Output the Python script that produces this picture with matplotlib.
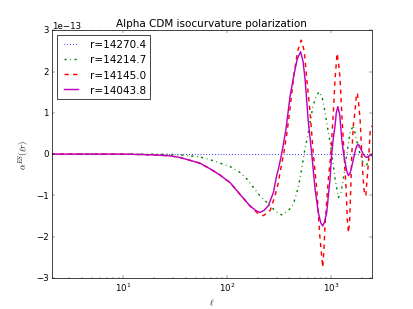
import numpy as np
import matplotlib
matplotlib.use('Agg')
import matplotlib.pyplot as plt

plt.style.use('classic')

# multipoles and alpha^{ES} values (units of 1e-13)
labels = ['r=14270.4', 'r=14214.7', 'r=14145.0', 'r=14043.8']

ell_blue = [2, 2500]
val_blue = [0.0, 0.0]

ell_green = [2, 20, 30, 44, 55, 68, 86, 107, 133, 155, 180, 208, 242, 280, 310,
             336, 390, 436, 487, 525, 552, 608, 670, 722, 776, 830, 881, 948, 1000, 1023,
             1100, 1184, 1250, 1323, 1427, 1535, 1652, 1781, 1916, 2062, 2175, 2305, 2500]
val_green = [0, 0, -0.01, -0.04, -0.07, -0.13, -0.22, -0.3, -0.44, -0.6, -0.81, -1.01, -1.17, -1.33, -1.43,
             -1.47, -1.37, -1.21, -0.8, -0.35, 0.0, 0.52, 1.13, 1.41, 1.51, 1.35, 1.02, 0.52, 0.2, 0.0,
             -0.6, -1.05, -0.95, -0.6, 0.0, 0.53, 0.69, 0.32, 0.0, -0.24, -0.32, -0.16, 0.0]

ell_red = [2, 10, 15, 20, 28, 35, 44, 55, 68, 85, 107, 133, 166, 195, 224,
           260, 290, 313, 324, 351, 380, 405, 440, 480, 520, 555, 587, 632, 679, 733,
           785, 837, 860, 881, 910, 948, 1000, 1059, 1100, 1150, 1190, 1229, 1276, 1343, 1406,
           1445, 1480, 1520, 1560, 1594, 1650, 1715, 1760, 1805, 1860, 1916, 1991, 2050, 2109, 2175,
           2240, 2305, 2393, 2500]
val_red = [0, 0, -0.01, -0.02, -0.04, -0.08, -0.15, -0.22, -0.35, -0.5, -0.69, -0.97, -1.25, -1.42, -1.49,
           -1.37, -1.01, -0.69, -0.45, 0.0, 0.55, 1.11, 1.9, 2.5, 2.76, 2.5, 1.82, 1.01, 0.0, -0.85,
           -2.0, -2.74, -2.3, -1.7, -1.2, -0.6, 0.0, 1.01, 1.82, 2.44, 2.2, 1.82, 1.0, 0.0, -0.85,
           -1.6, -1.9, -1.6, -0.8, 0.0, 0.7, 1.05, 1.38, 1.48, 1.2, 0.85, 0.0, -0.6, -0.93, -1.01,
           -0.6, -0.2, 0.53, 0.69]

ell_mag = [2, 5, 10, 15, 20, 28, 35, 44, 55, 68, 85, 107, 133, 166, 190,
           208, 228, 250, 280, 301, 313, 336, 370, 405, 440, 475, 512, 540, 565, 608,
           656, 706, 759, 800, 835, 870, 914, 984, 1020, 1060, 1100, 1130, 1170, 1220, 1276,
           1330, 1374, 1430, 1479, 1540, 1600, 1652, 1720, 1782, 1847, 1950, 2061, 2150, 2222, 2350,
           2500]
val_mag = [0, 0, 0, -0.01, -0.02, -0.04, -0.08, -0.15, -0.22, -0.35, -0.5, -0.69, -0.97, -1.25, -1.37,
           -1.41, -1.36, -1.25, -0.93, -0.52, -0.36, 0.0, 0.6, 1.4, 1.9, 2.3, 2.48, 2.25, 1.82, 0.77,
           0.0, -0.85, -1.41, -1.66, -1.74, -1.65, -1.41, -0.6, 0.0, 0.4, 0.69, 1.0, 1.15, 0.95, 0.36,
           0.0, -0.2, -0.42, -0.52, -0.45, -0.28, -0.12, 0.08, 0.2, 0.24, 0.12, 0.0, -0.06, -0.08, -0.04,
           0.0]

scale = 1e-13

fig = plt.figure(figsize=(8, 6), dpi=51.625)
ax = fig.add_subplot(111)

ax.plot(ell_blue, np.array(val_blue) * scale, 'b:', lw=1.5, label=labels[0])
ax.plot(ell_green, np.array(val_green) * scale, 'g-.', lw=2, label=labels[1])
ax.plot(ell_red, np.array(val_red) * scale, 'r--', lw=2, label=labels[2])
ax.plot(ell_mag, np.array(val_mag) * scale, 'm-', lw=2, label=labels[3])

ax.set_xscale('log')
ax.set_xlim(2.04, 2480)
ax.set_ylim(-3e-13, 3e-13)
ax.set_title('Alpha CDM isocurvature polarization')
ax.set_xlabel(r'$\ell$')
ax.set_ylabel(r'$\alpha^{ES}(\ell r)$')
ax.legend(loc='upper left')

fig.savefig('out.png', dpi=51.625)
